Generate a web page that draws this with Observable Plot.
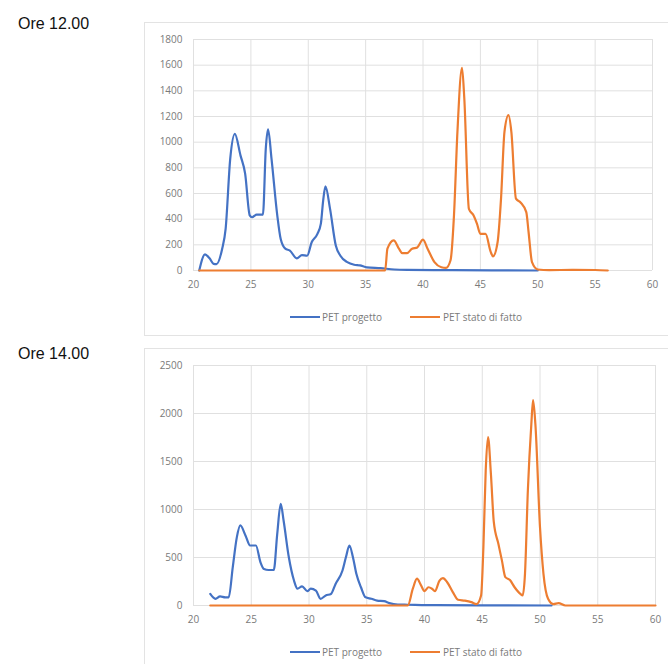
<!DOCTYPE html>
<html>
<head>
<meta charset="utf-8">
<script src="https://cdn.jsdelivr.net/npm/d3@7"></script>
<script src="https://cdn.jsdelivr.net/npm/@observablehq/plot@0.6"></script>
<style>
  html, body { margin: 0; padding: 0; background: #fff; }
  #root { position: relative; width: 668px; height: 664px; overflow: hidden; font-family: "Liberation Sans", Arial, sans-serif; }
  .lab { position: absolute; left: 18px; font-size: 16px; color: #111; line-height: 1; }
  .frame { position: absolute; left: 144px; width: 530px; border: 1px solid #e3e3e3; background: #fff; box-sizing: border-box; }
  .frame svg { position: absolute; left: -1px; top: -1px; }
  .leg { position: absolute; font-family: "Open Sans", sans-serif; font-size: 10px; color: #7a7a7a; white-space: nowrap; line-height: 12px; }
  .sw { position: absolute; width: 30px; height: 2px; }
</style>
</head>
<body>
<div id="root"></div>
<script>
// ---------- data ----------
const seriesNames = ["PET progetto", "PET stato di fatto"];
const seriesColors = ["#4472C4", "#ED7D31"];
const xTicks = [20, 25, 30, 35, 40, 45, 50, 55, 60];
const y1Ticks = [0, 200, 400, 600, 800, 1000, 1200, 1400, 1600, 1800];
const y2Ticks = [0, 500, 1000, 1500, 2000, 2500];
const panelTitles = ["Ore 12.00", "Ore 14.00"];

// Ore 12.00 - PET progetto
const x12Prog = [20.5, 21.0, 21.4, 21.75, 22.0, 22.5, 22.8, 23.2, 23.6, 24.1, 24.5, 24.9, 25.1, 25.5, 26.05, 26.3, 26.5, 26.8, 27.3, 27.6, 28.0, 28.4, 29.0, 29.45, 29.9, 30.3, 30.8, 31.1, 31.3, 31.5, 31.9, 32.4, 32.8, 33.4, 34.0, 34.5, 35.1, 36.3, 37.5, 38.6, 42.0, 46.0, 50.0];
const y12Prog = [0, 125, 95, 52, 50, 170, 325, 870, 1065, 895, 755, 430, 415, 435, 435, 950, 1100, 870, 430, 245, 170, 155, 95, 120, 115, 220, 285, 365, 545, 655, 480, 195, 115, 65, 45, 40, 25, 18, 8, 5, 3, 1, 0];
// Ore 12.00 - PET stato di fatto
const x12Stato = [20.5, 36.7, 36.9, 37.45, 37.9, 38.2, 38.6, 39.05, 39.5, 40.0, 40.4, 41.0, 41.6, 42.0, 42.4, 42.7, 43.0, 43.4, 43.6, 44.0, 44.4, 44.7, 45.0, 45.45, 45.9, 46.1, 46.5, 46.8, 47.1, 47.45, 47.7, 48.1, 48.5, 49.0, 49.2, 49.5, 50.0, 51.0, 53.0, 55.0, 56.1];
const y12Stato = [0, 0, 170, 235, 170, 135, 135, 170, 180, 240, 170, 65, 25, 20, 80, 430, 1080, 1580, 1340, 480, 430, 365, 285, 285, 145, 110, 220, 560, 1080, 1210, 1080, 560, 530, 455, 300, 65, 8, 3, 5, 4, 0];

// Ore 14.00 - PET progetto
const x14Prog = [21.45, 21.9, 22.3, 22.75, 23.05, 23.4, 23.75, 24.05, 24.5, 24.9, 25.4, 25.8, 26.1, 26.5, 26.95, 27.25, 27.55, 27.8, 28.25, 28.7, 29.0, 29.4, 29.85, 30.15, 30.6, 31.0, 31.45, 31.9, 32.3, 32.9, 33.2, 33.5, 33.8, 34.1, 34.5, 34.9, 35.4, 35.9, 36.5, 36.95, 37.7, 38.55, 41.0, 46.0, 51.0];
const y14Prog = [120, 70, 95, 85, 85, 400, 710, 835, 730, 625, 625, 450, 380, 370, 370, 745, 1060, 885, 505, 260, 175, 200, 150, 175, 155, 70, 105, 120, 225, 365, 505, 625, 505, 330, 190, 85, 70, 50, 45, 25, 10, 8, 3, 1, 0];
// Ore 14.00 - PET stato di fatto
const x14Stato = [21.45, 38.55, 38.99, 39.35, 39.7, 40.0, 40.35, 40.65, 40.9, 41.3, 41.6, 41.95, 42.45, 42.9, 43.5, 44.05, 44.5, 44.9, 45.1, 45.3, 45.5, 45.75, 46.0, 46.4, 46.7, 47.0, 47.4, 47.8, 48.3, 48.5, 48.7, 48.95, 49.25, 49.4, 49.6, 50.0, 50.3, 50.7, 51.15, 51.6, 52.2, 60.0];
const y14Stato = [0, 0, 175, 280, 210, 150, 190, 175, 150, 260, 285, 245, 140, 60, 50, 35, 15, 105, 610, 1405, 1755, 1370, 870, 640, 470, 295, 265, 190, 120, 105, 330, 1200, 1890, 2140, 1890, 815, 330, 70, 15, 25, 0, 0];

// ---------- build ----------
const root = document.getElementById("root");
const zip = (xs, ys) => xs.map((x, i) => ({x, y: ys[i]}));

const panels = [
  {title: panelTitles[0], titleTop: 16, frameTop: 22, frameH: 314, marginRight: 16, yDomain: [0, 1800], yTicks: y1Ticks, height: 272,
   series: [zip(x12Prog, y12Prog), zip(x12Stato, y12Stato)], legendMid: 317},
  {title: panelTitles[1], titleTop: 346, frameTop: 348, frameH: 330, marginRight: 13, yDomain: [0, 2500], yTicks: y2Ticks, height: 281,
   series: [zip(x14Prog, y14Prog), zip(x14Stato, y14Stato)], legendMid: 652}
];

for (const p of panels) {
  const lab = document.createElement("div");
  lab.className = "lab";
  lab.style.top = p.titleTop + "px";
  lab.textContent = p.title;
  root.appendChild(lab);

  const frame = document.createElement("div");
  frame.className = "frame";
  frame.style.top = p.frameTop + "px";
  frame.style.height = p.frameH + "px";
  root.appendChild(frame);

  const chart = Plot.plot({
    width: 524,
    height: p.height,
    marginLeft: 49,
    marginRight: p.marginRight,
    marginTop: 17,
    marginBottom: 24,
    style: {fontFamily: "'Open Sans', sans-serif", fontSize: "10px", color: "#7a7a7a", background: "transparent", overflow: "visible"},
    x: {domain: [20, 60], label: null},
    y: {domain: p.yDomain, label: null},
    marks: [
      Plot.gridX(xTicks, {stroke: "#e0e0e0", strokeOpacity: 1, strokeWidth: 1}),
      Plot.gridY(p.yTicks, {stroke: "#e0e0e0", strokeOpacity: 1, strokeWidth: 1}),
      Plot.axisX(xTicks, {tickSize: 0, tickPadding: 10, tickFormat: d => String(d)}),
      Plot.axisY(p.yTicks, {tickSize: 0, tickPadding: 11, tickFormat: d => String(d)}),
      ...p.series.map((s, i) => Plot.line(s, {x: "x", y: "y", stroke: seriesColors[i], strokeWidth: 2.2, curve: "monotone-x"}))
    ]
  });
  frame.appendChild(chart);

  // legend (absolute positions relative to page, converted to frame coords)
  const items = [{sw: 290, tx: 322}, {sw: 410, tx: 443}];
  items.forEach((it, i) => {
    const sw = document.createElement("div");
    sw.className = "sw";
    sw.style.background = seriesColors[i];
    sw.style.left = (it.sw - 145) + "px";
    sw.style.top = (p.legendMid - p.frameTop - 2) + "px";
    frame.appendChild(sw);
    const tx = document.createElement("div");
    tx.className = "leg";
    tx.style.left = (it.tx - 145) + "px";
    tx.style.top = (p.legendMid - p.frameTop - 7) + "px";
    tx.textContent = seriesNames[i];
    frame.appendChild(tx);
  });
}
</script>
</body>
</html>
